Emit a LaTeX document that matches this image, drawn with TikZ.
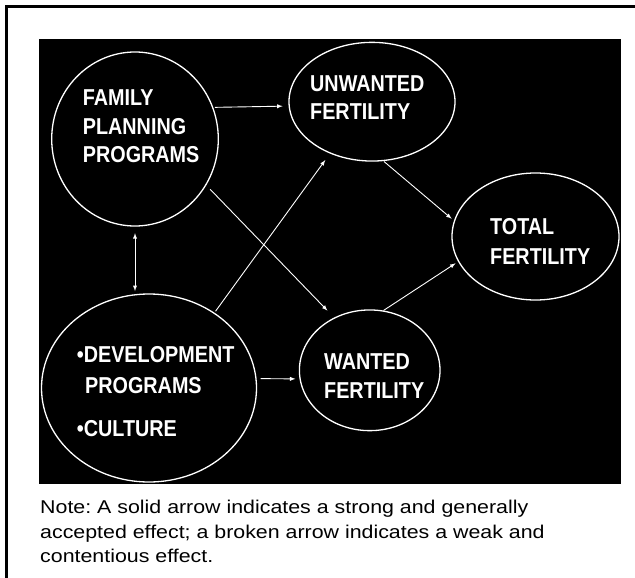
\documentclass[tikz,border=0pt]{standalone}
\usepackage{fontspec}
\setmainfont{Liberation Sans}
\newfontfamily\bubblefont[FakeStretch=0.86]{Liberation Sans Bold}
\newfontfamily\notefont[FakeStretch=1.155]{Liberation Sans}
\frenchspacing
\usepackage{tikz}
\usetikzlibrary{arrows}
\usetikzlibrary{shapes.geometric}
\tikzset{
bubble/.style={ellipse, draw=white, line width=1.3pt, inner sep=0pt},
caps/.style={anchor=north west, inner sep=0pt, align=left, text=white, font=\bubblefont\fontsize{23}{28.7}\selectfont},
link/.style={draw=white, line width=0.9pt, ->, >=latex}
}

\begin{document}
\begin{tikzpicture}[x=1pt,y=-1pt]
\useasboundingbox (0,0) rectangle (635,578);
\fill [black] (39,39) rectangle (621,484);
\draw [line width=3pt] (6.5,578) -- (6.5,6.5) -- (635,6.5);

\node [bubble, minimum width=166.6pt, minimum height=174pt] (FPP) at (135,139) {};
\node [bubble, minimum width=166pt, minimum height=118.7pt] (UNW) at (372,101.7) {};
\node [bubble, minimum width=167pt, minimum height=127pt] (TOT) at (535.5,236.5) {};
\node [bubble, minimum width=140.6pt, minimum height=120.7pt] (WNT) at (369.7,370.3) {};
\node [bubble, minimum width=215pt, minimum height=188pt] (DEV) at (149,388) {};

\node [caps] (FPPtxt) at (82.7,89.3) {FAMILY\\PLANNING\\PROGRAMS};
\node [caps] (UNWtxt) at (310,75) {UNWANTED\\FERTILITY};
\node [caps] (TOTtxt) at (490,218.3) {TOTAL\\[1.3pt]FERTILITY};
\node [caps] (WNTtxt) at (324,353.3) {WANTED\\FERTILITY};
\node [caps] (DEVtxt) at (76.7,346.7) {\textbullet DEVELOPMENT\\[2.3pt]\hspace*{8.3pt}PROGRAMS\\[13.6pt]\textbullet CULTURE};

\node [anchor=north west, inner sep=0pt, align=left, font=\notefont\fontsize{18.5}{24.5}\selectfont] (NOTE) at (40,500) {Note: A solid arrow indicates a strong and generally\\accepted effect; a broken arrow indicates a weak and\\contentious effect.};

\draw [link, shorten <=1.5pt, shorten >=6pt] (FPP.22) -- (UNW.183);
\draw [link, shorten <=5.6pt, shorten >=9.6pt] (FPP.-33) -- (WNT.124);
\draw [link, <->, shorten <=6.5pt, shorten >=2.3pt] (FPP.south) -- (FPP.south |- DEV.north);
\draw [link, shorten <=1.8pt, shorten >=8pt] (DEV.49) -- (UNW.231);
\draw [link, shorten <=4pt, shorten >=4pt] (DEV.5) -- (WNT.187);
\draw [link, shorten <=0.6pt, shorten >=3pt] (UNW.-79) -- (TOT.169);
\draw [link, shorten >=3pt] (WNT.77) -- (TOT.198);
\end{tikzpicture}
\end{document}
